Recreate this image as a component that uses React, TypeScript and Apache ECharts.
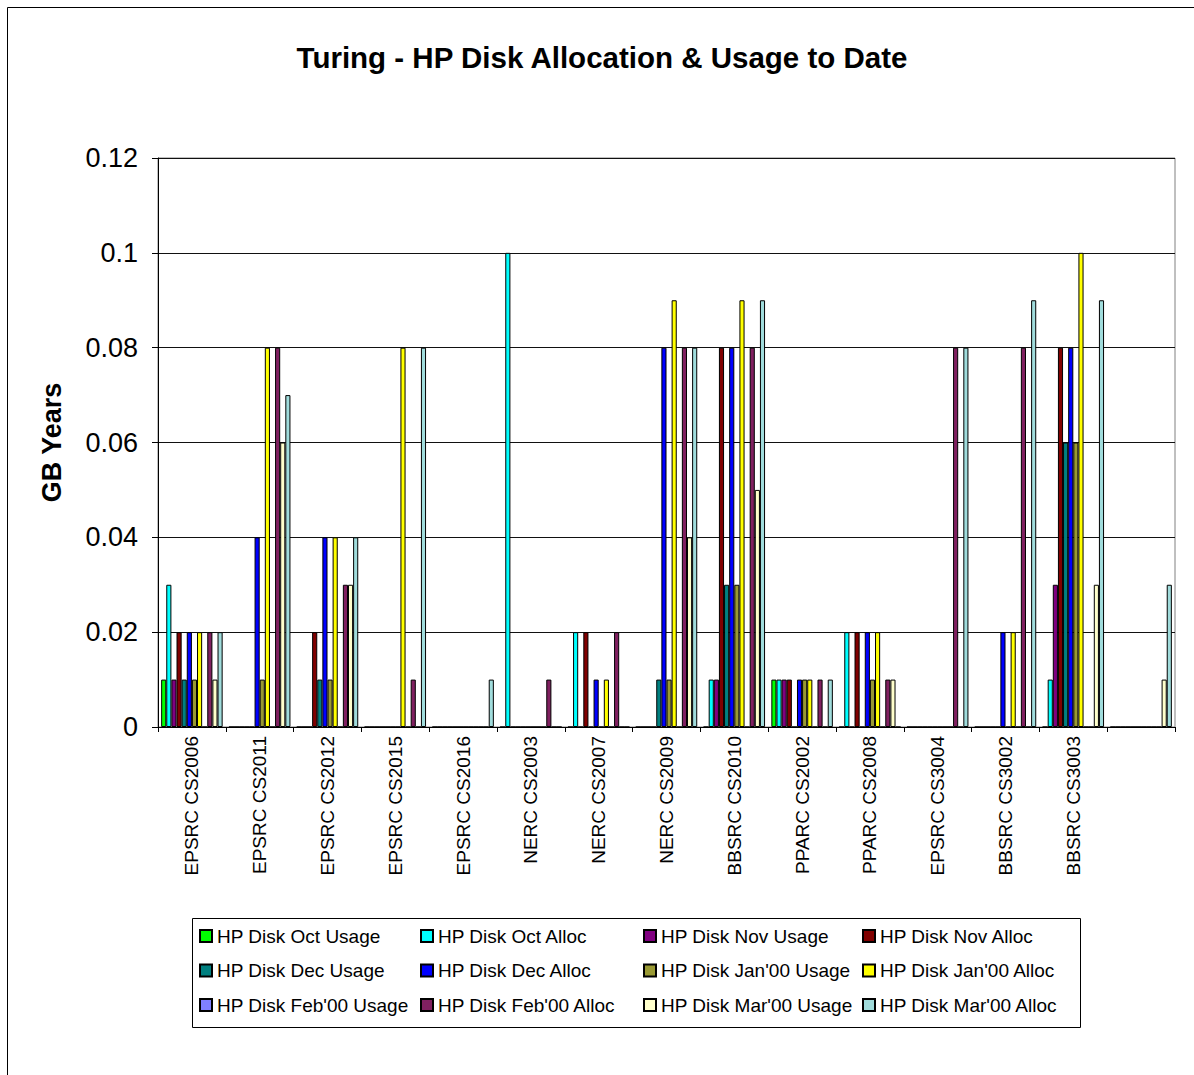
import React, { useEffect, useRef } from "react";
import * as echarts from "echarts";

const categories = [
  "EPSRC CS2006", "EPSRC CS2011", "EPSRC CS2012", "EPSRC CS2015", "EPSRC CS2016",
  "NERC CS2003", "NERC CS2007", "NERC CS2009", "BBSRC CS2010", "PPARC CS2002",
  "PPARC CS2008", "EPSRC CS3004", "BBSRC CS3002", "BBSRC CS3003", "",
];

const seriesNames = [
  "HP Disk Oct Usage", "HP Disk Oct Alloc", "HP Disk Nov Usage", "HP Disk Nov Alloc",
  "HP Disk Dec Usage", "HP Disk Dec Alloc", "HP Disk Jan'00 Usage", "HP Disk Jan'00 Alloc",
  "HP Disk Feb'00 Usage", "HP Disk Feb'00 Alloc", "HP Disk Mar'00 Usage", "HP Disk Mar'00 Alloc",
];

const seriesColors = [
  "#00FF00", "#00FFFF", "#800080", "#800000",
  "#008080", "#0000FF", "#999933", "#FFFF00",
  "#8080FF", "#802060", "#FFFFCC", "#A0DCDC",
];

// values per series, one per category
const octUsage = [0.01, 0, 0, 0, 0, 0, 0, 0, 0, 0.01, 0, 0, 0, 0, 0];
const octAlloc = [0.03, 0, 0, 0, 0, 0.1, 0.02, 0, 0.01, 0.01, 0.02, 0, 0, 0.01, 0];
const novUsage = [0.01, 0, 0, 0, 0, 0, 0, 0, 0.01, 0.01, 0, 0, 0, 0.03, 0];
const novAlloc = [0.02, 0, 0.02, 0, 0, 0, 0.02, 0, 0.08, 0.01, 0.02, 0, 0, 0.08, 0];
const decUsage = [0.01, 0, 0.01, 0, 0, 0, 0, 0.01, 0.03, 0, 0, 0, 0, 0.06, 0];
const decAlloc = [0.02, 0.04, 0.04, 0, 0, 0, 0.01, 0.08, 0.08, 0.01, 0.02, 0, 0.02, 0.08, 0];
const janUsage = [0.01, 0.01, 0.01, 0, 0, 0, 0, 0.01, 0.03, 0.01, 0.01, 0, 0, 0.06, 0];
const janAlloc = [0.02, 0.08, 0.04, 0.08, 0, 0, 0.01, 0.09, 0.09, 0.01, 0.02, 0, 0.02, 0.1, 0];
const febUsage = [0, 0, 0, 0, 0, 0, 0, 0, 0, 0, 0, 0, 0, 0, 0];
const febAlloc = [0.02, 0.08, 0.03, 0.01, 0, 0.01, 0.02, 0.08, 0.08, 0.01, 0.01, 0.08, 0.08, 0, 0];
const marUsage = [0.01, 0.06, 0.03, 0, 0, 0, 0, 0.04, 0.05, 0, 0.01, 0, 0, 0.03, 0.01];
const marAlloc = [0.02, 0.07, 0.04, 0.08, 0.01, 0, 0, 0.08, 0.09, 0.01, 0, 0.08, 0.09, 0.09, 0.03];

const seriesValues = [
  octUsage, octAlloc, novUsage, novAlloc, decUsage, decAlloc,
  janUsage, janAlloc, febUsage, febAlloc, marUsage, marAlloc,
];

const yTicks = { min: 0, max: 0.12, interval: 0.02 };

const FONT = "'Liberation Sans', Arial, sans-serif";

export default function App() {
  const ref = useRef<HTMLDivElement>(null);

  useEffect(() => {
    if (!ref.current) return;
    const chart = echarts.init(ref.current, null, { renderer: "svg" });

    const series = seriesNames.map((name, i) => ({
      name,
      type: "bar",
      data: seriesValues[i],
      barGap: "0%",
      barCategoryGap: "9.3%",
      itemStyle: { color: seriesColors[i], borderColor: "#000", borderWidth: 1 },
      emphasis: { disabled: true },
    }));

    const legendCols = [
      { left: 199, names: [0, 4, 8] },
      { left: 420, names: [1, 5, 9] },
      { left: 643, names: [2, 6, 10] },
      { left: 862, names: [3, 7, 11] },
    ];

    chart.setOption({
      animation: false,
      backgroundColor: "#fff",
      textStyle: { fontFamily: FONT },
      grid: {
        left: 158, top: 158, right: 19, bottom: 348,
        show: true, borderColor: "#808080", borderWidth: 1,
      },
      legend: legendCols.map((c) => ({
        orient: "vertical",
        left: c.left,
        top: 926,
        itemWidth: 12,
        itemHeight: 12,
        itemGap: 14.5,
        icon: "rect",
        selectedMode: false,
        padding: 0,
        textStyle: { fontSize: 19, color: "#000", fontFamily: FONT, lineHeight: 20 },
        data: c.names.map((k) => seriesNames[k]),
      })),
      xAxis: {
        type: "category",
        data: categories,
        axisLine: { lineStyle: { color: "#000", width: 1 } },
        axisTick: { show: true, length: 5, lineStyle: { color: "#000" } },
        axisLabel: { rotate: 90, fontSize: 19, color: "#000", margin: 9, fontFamily: FONT, interval: 0 },
        splitLine: { show: false },
      },
      yAxis: {
        type: "value",
        min: yTicks.min,
        max: yTicks.max,
        interval: yTicks.interval,
        name: "GB Years",
        nameLocation: "middle",
        nameGap: 93,
        nameTextStyle: { fontSize: 27, fontWeight: "bold", color: "#000", fontFamily: FONT },
        axisLine: { show: true, lineStyle: { color: "#000", width: 1 } },
        axisTick: { show: true, length: 6, lineStyle: { color: "#000" } },
        axisLabel: { fontSize: 27, color: "#000", margin: 20, fontFamily: FONT },
        splitLine: { show: true, lineStyle: { color: "#111", width: 1 } },
      },
      graphic: [
        {
          type: "rect",
          shape: { x: 7.5, y: 7.5, width: 1200, height: 1100 },
          style: { fill: "none", stroke: "#000", lineWidth: 1 },
          silent: true,
        },
        {
          type: "rect",
          shape: { x: 192.5, y: 918.5, width: 888, height: 109 },
          style: { fill: "none", stroke: "#000", lineWidth: 1 },
          silent: true,
        },
        {
          type: "text",
          x: 602,
          y: 57,
          style: {
            text: "Turing - HP Disk Allocation & Usage to Date",
            fontSize: 29.5,
            fontWeight: "bold",
            fontFamily: FONT,
            fill: "#000",
            align: "center",
            verticalAlign: "middle",
          },
          silent: true,
        },
      ],
      series,
    });

    return () => chart.dispose();
  }, []);

  return (
    <div
      ref={ref}
      style={{ position: "fixed", left: 0, top: 0, width: 1194, height: 1075, background: "#fff" }}
    />
  );
}
